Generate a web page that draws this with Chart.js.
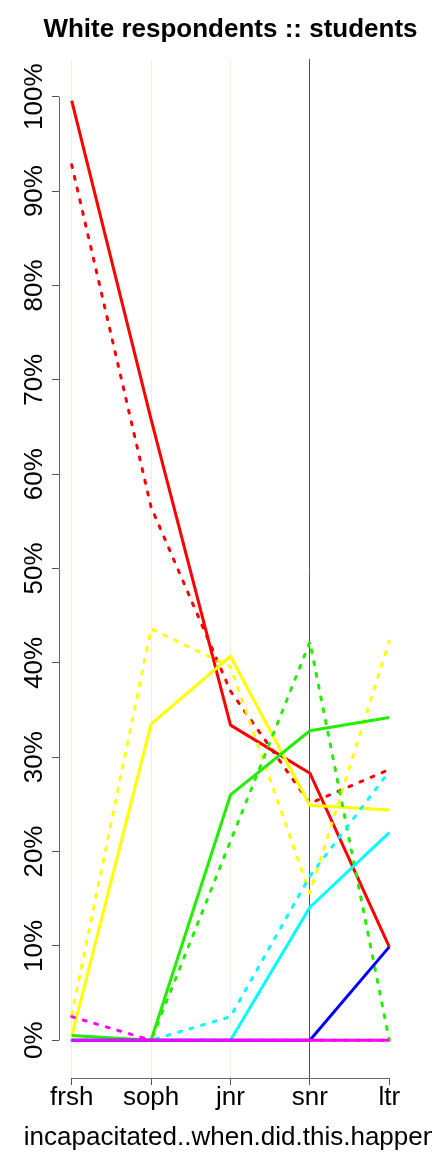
<!DOCTYPE html>
<html>
<head>
<meta charset="utf-8">
<script src="https://cdn.jsdelivr.net/npm/chart.js@4/dist/chart.umd.min.js"></script>
<style>
  html, body { margin: 0; padding: 0; background: #ffffff; }
  #wrap { width: 432px; height: 1152px; position: relative; }
</style>
</head>
<body>
<div id="wrap"><canvas id="chart"></canvas></div>
<script>
// data (percent)
const categories = ['frsh', 'soph', 'jnr', 'snr', 'ltr'];
const yTickValues = [0, 10, 20, 30, 40, 50, 60, 70, 80, 90, 100];
const titleText = 'White respondents :: students';
const xTitleText = 'incapacitated..when.did.this.happen';

const redSolid      = [99.6, 65.8, 33.4, 28.3, 9.9];
const redDashed     = [92.8, 56.5, 37.0, 25.1, 28.7];
const yellowSolid   = [0.4, 33.5, 40.7, 24.9, 24.4];
const yellowDashed  = [2.7, 43.6, 39.6, 15.6, 42.3];
const greenSolid    = [0.5, 0, 26.0, 32.8, 34.2];
const greenDashed   = [0, 0, 21.1, 42.2, 0];
const cyanSolid     = [0, 0, 0, 14.1, 22.0];
const cyanDashed    = [0, 0, 2.5, 17.4, 28.5];
const blueSolid     = [0, 0, 0, 0, 9.9];
const magentaSolid  = [0, 0, 0, 0, 0];
const magentaDashed = [2.5, 0, 0, 0, 0];

const FONT = '"Liberation Sans", Arial, Helvetica, sans-serif';

function series(values, color, dashed) {
    return {
        data: values.map((v, i) => ({ x: i, y: v })),
        borderColor: color,
        borderWidth: 3,
        borderDash: dashed ? [3, 9] : [],
        borderCapStyle: dashed ? 'round' : 'butt',
        borderJoinStyle: 'round',
        pointRadius: 0,
        tension: 0,
        fill: false
    };
}

// bottom-most first
const datasets = [
    series(redDashed, '#ff0000', true),
    series(redSolid, '#ff0000', false),
    series(yellowDashed, '#ffff00', true),
    series(yellowSolid, '#ffff00', false),
    series(greenDashed, '#22ee00', true),
    series(greenSolid, '#22ee00', false),
    series(cyanDashed, '#00ffff', true),
    series(cyanSolid, '#00ffff', false),
    series(blueSolid, '#0000ff', false),
    series(magentaDashed, '#ff00ff', true),
    series(magentaSolid, '#ff00ff', false)
];
datasets.forEach((d, i) => { d.order = datasets.length - i; });

// R-style axes and text
const rAxes = {
    id: 'rAxes',
    afterDraw(chart) {
        const ctx = chart.ctx;
        const xs = chart.scales.x, ys = chart.scales.y;
        const area = chart.chartArea;
        ctx.save();
        ctx.strokeStyle = '#666666';
        ctx.lineWidth = 1;
        // y axis line
        ctx.beginPath();
        ctx.moveTo(area.left + 0.5, ys.getPixelForValue(yTickValues[0]));
        ctx.lineTo(area.left + 0.5, ys.getPixelForValue(yTickValues[yTickValues.length - 1]));
        ctx.stroke();
        // x axis line
        ctx.beginPath();
        ctx.moveTo(xs.getPixelForValue(0), area.bottom + 0.5);
        ctx.lineTo(xs.getPixelForValue(categories.length - 1), area.bottom + 0.5);
        ctx.stroke();

        ctx.fillStyle = '#000000';
        ctx.font = '26px ' + FONT;
        ctx.textAlign = 'center';
        ctx.textBaseline = 'alphabetic';
        // y labels, rotated
        yTickValues.forEach(v => {
            const py = ys.getPixelForValue(v);
            ctx.save();
            ctx.translate(area.left - 17, py);
            ctx.rotate(-Math.PI / 2);
            ctx.fillText(v + '%', 0, 0);
            ctx.restore();
        });
        // x labels
        categories.forEach((c, i) => {
            ctx.fillText(c, xs.getPixelForValue(i), 1105);
        });
        // axis title
        const mid = (area.left + area.right) / 2;
        ctx.fillText(xTitleText, mid, 1145);
        // main title
        ctx.font = 'bold 26px ' + FONT;
        ctx.fillText(titleText, mid, 37);
        ctx.restore();
    }
};

new Chart(document.getElementById('chart').getContext('2d'), {
    type: 'line',
    data: { datasets: datasets },
    options: {
        responsive: true,
        maintainAspectRatio: false,
        animation: false,
        layout: { padding: { top: 59, right: 30, left: 0, bottom: 0 } },
        plugins: {
            legend: { display: false },
            tooltip: { enabled: false },
            title: { display: false }
        },
        scales: {
            x: {
                type: 'linear',
                min: -0.16,
                max: categories.length - 1 + 0.16,
                afterFit: function(s) { s.height = 74; },
                afterBuildTicks: function(s) {
                    s.ticks = categories.map((c, i) => ({ value: i }));
                },
                ticks: { display: false },
                border: { display: false },
                grid: {
                    drawOnChartArea: true,
                    drawTicks: true,
                    tickLength: 7,
                    lineWidth: 1,
                    tickColor: '#555555',
                    color: function(c) {
                        const v = c.tick ? c.tick.value : -1;
                        if (v === 3) return '#555555';
                        if (v === 4) return 'rgba(0,0,0,0)';
                        return '#f0f0e0';
                    }
                }
            },
            y: {
                type: 'linear',
                min: -4,
                max: 104,
                afterFit: function(s) { s.width = 59; },
                afterBuildTicks: function(s) {
                    s.ticks = yTickValues.map(v => ({ value: v }));
                },
                ticks: { display: false },
                border: { display: false },
                grid: {
                    drawOnChartArea: false,
                    drawTicks: true,
                    tickLength: 7,
                    tickColor: '#555555'
                }
            }
        }
    },
    plugins: [rAxes]
});
</script>
</body>
</html>
